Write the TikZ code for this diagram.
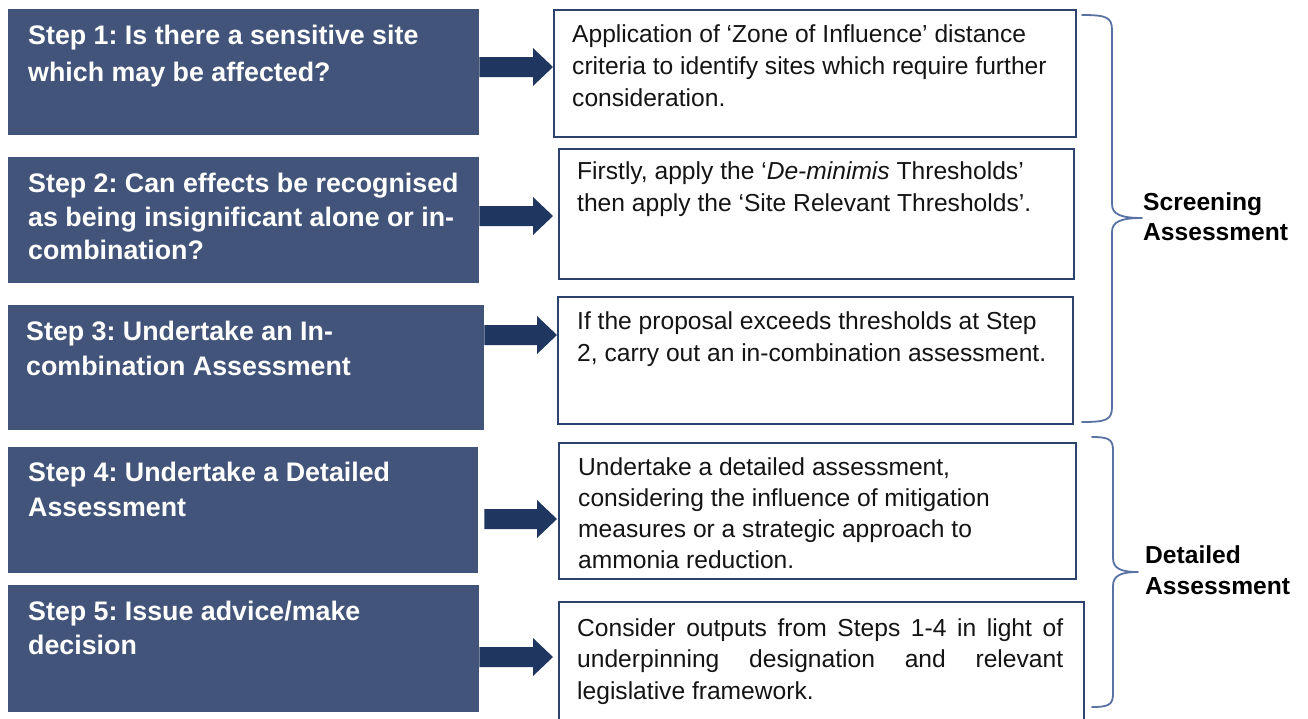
\documentclass[tikz,border=0pt]{standalone}
\usepackage{fontspec}
\setmainfont{Liberation Sans}
\usetikzlibrary{calc}
\frenchspacing

\definecolor{stepfill}{RGB}{66,84,121}
\definecolor{arrownavy}{RGB}{31,54,96}
\definecolor{boxline}{RGB}{45,65,110}
\definecolor{bracecol}{RGB}{88,114,164}
\definecolor{bodytext}{RGB}{20,20,20}

% filled block arrow between two points on the same horizontal line
\newcommand\blockarrow[2]{%
  \fill[arrownavy] ($(#1)+(0,-10)$) -- ($(#2)+(-20,-10)$) -- ($(#2)+(-20,-19)$)
    -- (#2) -- ($(#2)+(-20,19)$) -- ($(#2)+(-20,10)$) -- ($(#1)+(0,10)$) -- cycle;}

\begin{document}
\begin{tikzpicture}[x=1pt,y=-1pt,
  stepbox/.style={fill=stepfill, draw=none, inner sep=0pt, anchor=north west},
  infobox/.style={draw=boxline, line width=1.8pt, fill=white, inner sep=0pt, anchor=north west},
  steptext/.style={anchor=base west, inner sep=0pt, text=white, font=\bfseries},
  infotext/.style={anchor=base west, inner sep=0pt, text=bodytext},
  bracelabel/.style={anchor=base west, inner sep=0pt, text=black, font=\bfseries},
  bracepath/.style={draw=bracecol, line width=1.8pt, line cap=round, line join=round}
]
\useasboundingbox (0,0) rectangle (1308,718);
\clip (0,0) rectangle (1308,718);
\fill[white] (0,0) rectangle (1308,718);

% left column: the five steps
\node[stepbox, minimum width=471pt, minimum height=126pt] (s1) at (8,9) {};
\node[stepbox, minimum width=471pt, minimum height=126pt] (s2) at (8,157) {};
\node[stepbox, minimum width=476pt, minimum height=125pt] (s3) at (8,305) {};
\node[stepbox, minimum width=470pt, minimum height=126pt] (s4) at (8,447) {};
\node[stepbox, minimum width=471pt, minimum height=127pt] (s5) at (8,585) {};

\node[steptext] (t1) at ($(s1.north west)+(20,35.5)$)
  {\parbox[t]{460pt}{\raggedright\fontsize{26.8}{37}\selectfont
   Step 1: Is there a sensitive site\\which may be affected?}};
\node[steptext] (t2) at ($(s2.north west)+(20,35.5)$)
  {\parbox[t]{460pt}{\raggedright\fontsize{26.8}{33.5}\selectfont
   Step 2: Can effects be recognised\\as being insignificant alone or in-\\combination?}};
\node[steptext] (t3) at ($(s3.north west)+(18,35.5)$)
  {\parbox[t]{460pt}{\raggedright\fontsize{26.8}{35}\selectfont
   Step 3: Undertake an In-\\combination Assessment}};
\node[steptext] (t4) at ($(s4.north west)+(20,34.5)$)
  {\parbox[t]{460pt}{\raggedright\fontsize{26.8}{35}\selectfont
   Step 4: Undertake a Detailed\\Assessment}};
\node[steptext] (t5) at ($(s5.north west)+(20,35.5)$)
  {\parbox[t]{460pt}{\raggedright\fontsize{26.8}{34}\selectfont
   Step 5: Issue advice/make\\decision}};

% right column: what each step involves
\node[infobox, minimum width=522pt, minimum height=127pt] (r1) at (553,9) {};
\node[infobox, minimum width=515pt, minimum height=130pt] (r2) at (558,148) {};
\node[infobox, minimum width=515pt, minimum height=127pt] (r3) at (557,296) {};
\node[infobox, minimum width=517pt, minimum height=136pt] (r4) at (558,442) {};
\node[infobox, minimum width=525pt, minimum height=140pt] (r5) at (558,601) {};

\node[infotext] (u1) at ($(r1.north west)+(19,33)$)
  {\parbox[t]{520pt}{\raggedright\fontsize{24.6}{32}\selectfont
   Application of ‘Zone of Influence’ distance\\criteria to identify sites which require further\\consideration.}};
\node[infotext] (u2) at ($(r2.north west)+(19,31)$)
  {\parbox[t]{520pt}{\raggedright\fontsize{24.6}{32}\selectfont
   Firstly, apply the ‘\textit{De-minimis} Thresholds’\\then apply the ‘Site Relevant Thresholds’.}};
\node[infotext] (u3) at ($(r3.north west)+(20,33)$)
  {\parbox[t]{520pt}{\raggedright\fontsize{24.6}{32}\selectfont
   If the proposal exceeds thresholds at Step\\2, carry out an in-combination assessment.}};
\node[infotext] (u4) at ($(r4.north west)+(20,33)$)
  {\parbox[t]{520pt}{\raggedright\fontsize{24.6}{31.3}\selectfont
   Undertake a detailed assessment,\\considering the influence of mitigation\\measures or a strategic approach to\\ammonia reduction.}};
\node[infotext] (u5) at ($(r5.north west)+(19,35)$)
  {\parbox[t]{486pt}{\fontsize{24.6}{31.5}\selectfont
   Consider outputs from Steps 1-4 in light of\linebreak
   underpinning designation and relevant\linebreak
   legislative framework.}};

% block arrows from each step to its description
\coordinate (a1) at ($(s1.north east)+(0,58)$);
\coordinate (b1) at (a1 -| r1.west);
\coordinate (a2) at ($(s2.north east)+(0,59)$);
\coordinate (b2) at ($(a2 -| r2.west)+(-5,0)$);
\coordinate (a3) at ($(s3.north east)+(0,30)$);
\coordinate (b3) at (a3 -| r3.west);
\coordinate (a4) at ($(s4.north east)+(6,72)$);
\coordinate (b4) at ($(a4 -| r4.west)+(-1,0)$);
\coordinate (a5) at ($(s5.north east)+(0,72)$);
\coordinate (b5) at ($(a5 -| r5.west)+(-5,0)$);
\blockarrow{a1}{b1}
\blockarrow{a2}{b2}
\blockarrow{a3}{b3}
\blockarrow{a4}{b4}
\blockarrow{a5}{b5}

% braces grouping the steps
\draw[bracepath] (1082,15) .. controls (1106,15) and (1112,17) .. (1112,30)
  -- (1112,204) .. controls (1112,214) and (1120,218) .. (1142,218)
  .. controls (1120,218) and (1112,222) .. (1112,232)
  -- (1112,407) .. controls (1112,420) and (1106,422) .. (1082,422);
\draw[bracepath] (1092,437) .. controls (1108,437) and (1113,439) .. (1113,450)
  -- (1113,558) .. controls (1113,568) and (1120,572) .. (1138,572)
  .. controls (1120,572) and (1113,576) .. (1113,586)
  -- (1113,694) .. controls (1113,705) and (1108,707) .. (1092,707);

\node[bracelabel] (lscreen) at (1143,210)
  {\parbox[t]{160pt}{\raggedright\fontsize{24.6}{30.5}\selectfont Screening\\Assessment}};
\node[bracelabel] (ldetail) at (1145,563)
  {\parbox[t]{160pt}{\raggedright\fontsize{24.6}{31}\selectfont Detailed\\Assessment}};
\end{tikzpicture}
\end{document}
